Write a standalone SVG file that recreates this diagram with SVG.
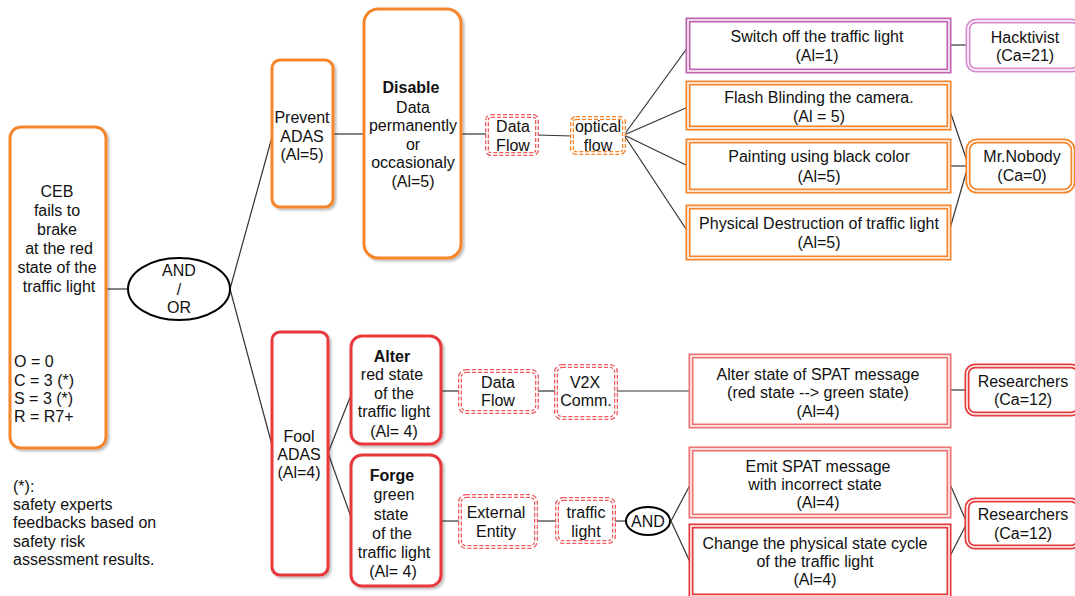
<svg xmlns="http://www.w3.org/2000/svg" width="1075" height="596" viewBox="0 0 1075 596">
  <defs>
    <filter id="shadow" x="-10%" y="-10%" width="130%" height="130%">
      <feDropShadow dx="2" dy="2" stdDeviation="1" flood-color="#000" flood-opacity="0.25"/>
    </filter>
    <style>
      text { font-family: "Liberation Sans", Arial, sans-serif; font-size: 16px; fill: #111; }
      .c { text-anchor: middle; }
      .b { font-weight: bold; }
      .orange { fill: #fff; stroke: #F5852A; stroke-width: 3; }
      .red { fill: #fff; stroke: #E8393B; stroke-width: 3; }
      .dbl-o { fill: #fff; stroke: #F5852A; stroke-width: 5; }
      .dbl-p { fill: #fff; stroke: #BE62B2; stroke-width: 5; }
      .dbl-lp { fill: #fff; stroke: #D98BD0; stroke-width: 5; }
      .dbl-r { fill: #fff; stroke: #E8393B; stroke-width: 5; }
      .dbl-lr { fill: #fff; stroke: #EE7070; stroke-width: 5; }
      .gap { fill: none; stroke: #fff; stroke-width: 1.5; }
      .dash-r { fill: #fff; stroke: #EE5A5E; stroke-width: 4; stroke-dasharray: 4 2; }
      .dash-o { fill: #fff; stroke: #F5852A; stroke-width: 4; stroke-dasharray: 4 2; }
      .dgap { fill: none; stroke: #fff; stroke-width: 1.4; }
      .link { fill: none; stroke: #333; stroke-width: 1.2; }
      .gate { fill: #fff; stroke: #000; stroke-width: 2; }
    </style>
  </defs>

  <!-- connectors -->
  <g id="connectors">
    <line class="link" x1="106" y1="289" x2="128" y2="289" stroke-width="2"/>
    <line class="link" x1="230" y1="289" x2="272" y2="137"/>
    <line class="link" x1="230" y1="289" x2="272" y2="445"/>
    <line class="link" x1="333" y1="134" x2="364" y2="134"/>
    <line class="link" x1="461" y1="134" x2="487" y2="134"/>
    <line class="link" x1="537" y1="135" x2="572" y2="136"/>
    <line class="link" x1="624" y1="135" x2="688" y2="47"/>
    <line class="link" x1="624" y1="135" x2="688" y2="107"/>
    <line class="link" x1="624" y1="135" x2="688" y2="166"/>
    <line class="link" x1="624" y1="135" x2="688" y2="232"/>
    <line class="link" x1="949" y1="45" x2="967" y2="45"/>
    <line class="link" x1="949" y1="108" x2="968" y2="164"/>
    <line class="link" x1="949" y1="166" x2="968" y2="166"/>
    <line class="link" x1="949" y1="232" x2="968" y2="166"/>
    <line class="link" x1="328" y1="453" x2="351" y2="395"/>
    <line class="link" x1="328" y1="453" x2="351" y2="517"/>
    <line class="link" x1="441" y1="391" x2="459" y2="391"/>
    <line class="link" x1="537" y1="391" x2="556" y2="391"/>
    <line class="link" x1="616" y1="391" x2="690" y2="391"/>
    <line class="link" x1="949" y1="390" x2="966" y2="390"/>
    <line class="link" x1="441" y1="521" x2="459" y2="521"/>
    <line class="link" x1="536" y1="521" x2="557" y2="521"/>
    <line class="link" x1="614" y1="521" x2="626" y2="521" stroke-width="2"/>
    <line class="link" x1="671" y1="521" x2="690" y2="485"/>
    <line class="link" x1="671" y1="521" x2="690" y2="562"/>
    <line class="link" x1="949" y1="482" x2="967" y2="523"/>
    <line class="link" x1="949" y1="558" x2="967" y2="523"/>
  </g>

  <!-- root goal -->
  <g id="ceb">
    <rect class="orange" x="10" y="127" width="96" height="321" rx="11" filter="url(#shadow)"/>
    <text class="c" x="57" y="197">CEB</text>
    <text class="c" x="57" y="216">fails to</text>
    <text class="c" x="57" y="235">brake</text>
    <text class="c" x="59" y="254">at the red</text>
    <text class="c" x="57" y="273">state of the</text>
    <text class="c" x="59" y="292">traffic light</text>
    <text x="14" y="367">O = 0</text>
    <text x="14" y="386">C = 3 (*)</text>
    <text x="14" y="404">S = 3 (*)</text>
    <text x="14" y="422">R = R7+</text>
  </g>

  <g id="and-or">
    <ellipse class="gate" cx="179" cy="289" rx="51" ry="31"/>
    <text class="c" x="179" y="276">AND</text>
    <text class="c" x="179" y="295">/</text>
    <text class="c" x="179" y="313">OR</text>
  </g>

  <!-- upper branch -->
  <g id="prevent-adas">
    <rect class="orange" x="272" y="60" width="61" height="147" rx="8" filter="url(#shadow)"/>
    <text class="c" x="302" y="123">Prevent</text>
    <text class="c" x="302" y="142">ADAS</text>
    <text class="c" x="302" y="160">(Al=5)</text>
  </g>

  <g id="disable">
    <rect class="orange" x="364" y="9" width="97" height="249" rx="14" filter="url(#shadow)"/>
    <text class="c b" x="411" y="93">Disable</text>
    <text class="c" x="413" y="113">Data</text>
    <text class="c" x="413" y="131">permanently</text>
    <text class="c" x="413" y="150">or</text>
    <text class="c" x="413" y="168">occasionaly</text>
    <text class="c" x="413" y="187">(Al=5)</text>
  </g>

  <g id="data-flow-top">
    <rect class="dash-r" x="487" y="116" width="50" height="38" rx="4"/>
    <rect class="dgap" x="487" y="116" width="50" height="38" rx="4"/>
    <text class="c" x="513" y="132">Data</text>
    <text class="c" x="513" y="151">Flow</text>
  </g>

  <g id="optical-flow">
    <rect class="dash-o" x="572" y="118" width="52" height="35" rx="4"/>
    <rect class="dgap" x="572" y="118" width="52" height="35" rx="4"/>
    <text class="c" x="598" y="132">optical</text>
    <text class="c" x="598" y="151">flow</text>
  </g>

  <g id="switch-off">
    <rect class="dbl-p" x="688" y="20" width="261" height="51"/>
    <rect class="gap" x="688" y="20" width="261" height="51"/>
    <text class="c" x="817" y="42">Switch off the traffic light</text>
    <text class="c" x="817" y="61">(Al=1)</text>
  </g>

  <g id="hacktivist">
    <rect class="dbl-lp" x="968" y="21" width="112" height="49" rx="8"/>
    <rect class="gap" x="968" y="21" width="112" height="49" rx="8"/>
    <text class="c" x="1025" y="43">Hacktivist</text>
    <text class="c" x="1025" y="61">(Ca=21)</text>
  </g>

  <g id="flash">
    <rect class="dbl-o" x="688" y="83" width="261" height="45"/>
    <rect class="gap" x="688" y="83" width="261" height="45"/>
    <text class="c" x="819" y="103">Flash Blinding the camera.</text>
    <text class="c" x="819" y="122">(Al = 5)</text>
  </g>

  <g id="painting">
    <rect class="dbl-o" x="688" y="141" width="261" height="50"/>
    <rect class="gap" x="688" y="141" width="261" height="50"/>
    <text class="c" x="819" y="162">Painting using black color</text>
    <text class="c" x="819" y="182">(Al=5)</text>
  </g>

  <g id="physical">
    <rect class="dbl-o" x="688" y="207" width="261" height="51"/>
    <rect class="gap" x="688" y="207" width="261" height="51"/>
    <text class="c" x="819" y="229">Physical Destruction of traffic light</text>
    <text class="c" x="819" y="248">(Al=5)</text>
  </g>

  <g id="mr-nobody">
    <rect class="dbl-o" x="968" y="141" width="105" height="50" rx="9"/>
    <rect class="gap" x="968" y="141" width="105" height="50" rx="9"/>
    <text class="c" x="1022" y="162">Mr.Nobody</text>
    <text class="c" x="1022" y="181">(Ca=0)</text>
  </g>

  <!-- lower branch -->
  <g id="fool-adas">
    <rect class="red" x="272" y="332" width="56" height="243" rx="8" filter="url(#shadow)"/>
    <text class="c" x="299" y="442">Fool</text>
    <text class="c" x="299" y="460">ADAS</text>
    <text class="c" x="299" y="478">(Al=4)</text>
  </g>

  <g id="alter">
    <rect class="red" x="351" y="336" width="90" height="108" rx="11" filter="url(#shadow)"/>
    <text class="c b" x="392" y="362">Alter</text>
    <text class="c" x="392" y="380">red state</text>
    <text class="c" x="394" y="399">of  the</text>
    <text class="c" x="394" y="417">traffic light</text>
    <text class="c" x="394" y="437">(Al= 4)</text>
  </g>

  <g id="forge">
    <rect class="red" x="351" y="455" width="90" height="131" rx="11" filter="url(#shadow)"/>
    <text class="c b" x="392" y="481">Forge</text>
    <text class="c" x="394" y="500">green</text>
    <text class="c" x="391" y="520">state</text>
    <text class="c" x="392" y="539">of  the</text>
    <text class="c" x="394" y="558">traffic light</text>
    <text class="c" x="393" y="577">(Al= 4)</text>
  </g>

  <g id="data-flow-bottom">
    <rect class="dash-r" x="460" y="371" width="77" height="41" rx="6"/>
    <rect class="dgap" x="460" y="371" width="77" height="41" rx="6"/>
    <text class="c" x="498" y="388">Data</text>
    <text class="c" x="498" y="406">Flow</text>
  </g>

  <g id="v2x">
    <rect class="dash-r" x="556" y="366" width="60" height="52" rx="6"/>
    <rect class="dgap" x="556" y="366" width="60" height="52" rx="6"/>
    <text class="c" x="585" y="388">V2X</text>
    <text class="c" x="586" y="406">Comm.</text>
  </g>

  <g id="external-entity">
    <rect class="dash-r" x="460" y="496" width="76" height="51" rx="6"/>
    <rect class="dgap" x="460" y="496" width="76" height="51" rx="6"/>
    <text class="c" x="496" y="518">External</text>
    <text class="c" x="496" y="537">Entity</text>
  </g>

  <g id="traffic-light">
    <rect class="dash-r" x="557" y="499" width="57" height="43" rx="6"/>
    <rect class="dgap" x="557" y="499" width="57" height="43" rx="6"/>
    <text class="c" x="586" y="518">traffic</text>
    <text class="c" x="586" y="537">light</text>
  </g>

  <g id="and">
    <ellipse class="gate" cx="648" cy="521" rx="22" ry="14"/>
    <text class="c" x="648" y="527">AND</text>
  </g>

  <g id="alter-spat">
    <rect class="dbl-lr" x="691" y="356" width="258" height="70"/>
    <rect class="gap" x="691" y="356" width="258" height="70"/>
    <text class="c" x="818" y="380">Alter state of SPAT message</text>
    <text class="c" x="818" y="398">(red state --&gt; green state)</text>
    <text class="c" x="818" y="417">(Al=4)</text>
  </g>

  <g id="researchers-top">
    <rect class="dbl-r" x="967" y="366" width="112" height="48" rx="8"/>
    <rect class="gap" x="967" y="366" width="112" height="48" rx="8"/>
    <text class="c" x="1023" y="387">Researchers</text>
    <text class="c" x="1023" y="405">(Ca=12)</text>
  </g>

  <g id="emit-spat">
    <rect class="dbl-lr" x="691" y="449" width="258" height="67"/>
    <rect class="gap" x="691" y="449" width="258" height="67"/>
    <text class="c" x="818" y="472">Emit SPAT message</text>
    <text class="c" x="815" y="490">with incorrect state</text>
    <text class="c" x="818" y="508">(Al=4)</text>
  </g>

  <g id="change-cycle">
    <rect class="dbl-r" x="691" y="526" width="258" height="70"/>
    <rect class="gap" x="691" y="526" width="258" height="70"/>
    <text class="c" x="815" y="549">Change the physical state cycle</text>
    <text class="c" x="815" y="567">of the traffic light</text>
    <text class="c" x="815" y="585">(Al=4)</text>
  </g>

  <g id="researchers-bottom">
    <rect class="dbl-r" x="967" y="500" width="112" height="47" rx="8"/>
    <rect class="gap" x="967" y="500" width="112" height="47" rx="8"/>
    <text class="c" x="1023" y="520">Researchers</text>
    <text class="c" x="1023" y="539">(Ca=12)</text>
  </g>

  <!-- footnote -->
  <g id="note">
    <text x="13" y="492">(*):</text>
    <text x="13" y="510">safety experts</text>
    <text x="13" y="528">feedbacks based on</text>
    <text x="13" y="547">safety risk</text>
    <text x="13" y="565">assessment results.</text>
  </g>
</svg>
